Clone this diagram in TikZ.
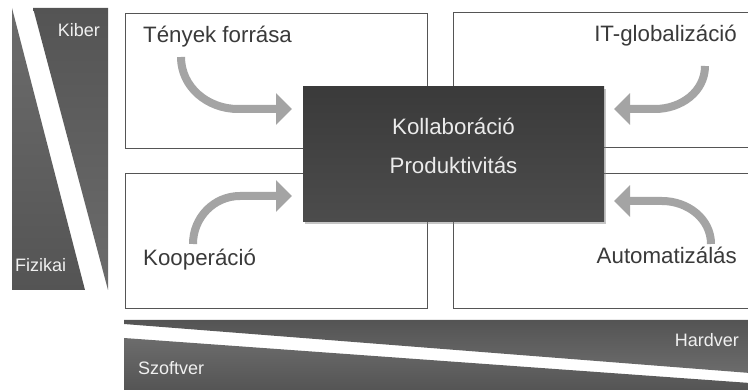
\documentclass[tikz,border=0pt]{standalone}
\usepackage{fontspec}
\setmainfont{Liberation Sans}
\usetikzlibrary{arrows.meta,shadows}

\definecolor{boxline}{HTML}{555555}
\definecolor{labelgray}{HTML}{3A3A3A}
\definecolor{arrowgray}{HTML}{A4A4A4}
\definecolor{bargray}{HTML}{616161}
\definecolor{bardark}{HTML}{545454}
\definecolor{barlight}{HTML}{6C6C6C}
\definecolor{coretop}{HTML}{3A3A3A}
\definecolor{corebottom}{HTML}{4C4C4C}

\tikzset{
  quadbox/.style={draw=boxline, line width=1.4pt, fill=white, rectangle,
    inner sep=0pt, anchor=north west},
  corebox/.style={rectangle, inner sep=0pt, anchor=north west,
    top color=coretop, bottom color=corebottom,
    drop shadow={opacity=0.45, shadow xshift=2pt, shadow yshift=-3pt}},
  quadlabel/.style={text=labelgray, inner sep=0pt,
    font=\fontsize{22.3}{26}\selectfont},
  corelabel/.style={text=white!92!black, inner sep=0pt, anchor=base,
    font=\fontsize{22.3}{26}\selectfont},
  barlabel/.style={text=white!94!black, inner sep=0pt,
    font=\fontsize{18}{21}\selectfont},
  flowarrow/.style={draw=arrowgray, line width=8pt,
    -{Triangle[length=16pt,width=31pt]}},
}

\begin{document}
\begin{tikzpicture}[x=1pt, y=-1pt]
\useasboundingbox (0,0) rectangle (748,390);

% Kiber / Fizikai bar on the left, split by a white diagonal
\shade[top color=barlight, bottom color=bardark]
  (12,8) -- (85,290) -- (12,290) -- cycle;
\shade[top color=bardark, bottom color=barlight]
  (33,8) -- (108,8) -- (108,290) -- cycle;
\node[barlabel, anchor=base east] (kiber) at (100,37) {Kiber};
\node[barlabel, anchor=base west] (fizikai) at (15,272) {Fizikai};

% Hardver / Szoftver bar at the bottom
\shade[top color=bardark, bottom color=barlight]
  (124,320) -- (750,320) -- (750,373) -- (124,324) -- cycle;
\shade[top color=barlight, bottom color=bardark]
  (124,338) -- (750,383) -- (750,391) -- (124,391) -- cycle;
\node[barlabel, anchor=base east] (hardver) at (739,347) {Hardver};
\node[barlabel, anchor=base west] (szoftver) at (138,374) {Szoftver};

% four quadrants
\node[quadbox, minimum width=302pt, minimum height=135pt] (tl) at (125,13) {};
\node[quadbox, minimum width=300pt, minimum height=135pt] (tr) at (453,12) {};
\node[quadbox, minimum width=302pt, minimum height=135pt] (bl) at (125,173) {};
\node[quadbox, minimum width=300pt, minimum height=135pt] (br) at (453,173) {};

% central box
\node[corebox, minimum width=301pt, minimum height=135pt] (core) at (303,86) {};
\node[corelabel] (kollab) at (453.5,135) {Kollaboráció};
\node[corelabel] (produkt) at (453.5,174) {Produktivitás};

% quadrant labels
\node[quadlabel, anchor=base west] (tenyek) at (143,43) {Tények forrása};
\node[quadlabel, anchor=base east] (itglob) at (737,42) {IT-globalizáció};
\node[quadlabel, anchor=base west] (koop) at (143,266) {Kooperáció};
\node[quadlabel, anchor=base east] (autom) at (737,264) {Automatizálás};

% arrow ends
\coordinate (a1s) at (181,57);
\coordinate (a1m) at (238,109);
\coordinate (a1e) at (292,109);
\coordinate (a2s) at (705,66);
\coordinate (a2m) at (655,109);
\coordinate (a2e) at (614,109);
\coordinate (a3s) at (193,244);
\coordinate (a3m) at (240,196);
\coordinate (a3e) at (292,196);
\coordinate (a4s) at (711,244);
\coordinate (a4m) at (662,201);
\coordinate (a4e) at (614,201);

% curved arrows toward the central box
\draw[flowarrow] (a1s) to[out=-90, in=180] (a1m) -- (a1e);
\draw[flowarrow] (a2s) to[out=-90, in=0] (a2m) -- (a2e);
\draw[flowarrow] (a3s) to[out=90, in=180] (a3m) -- (a3e);
\draw[flowarrow] (a4s) to[out=90, in=0] (a4m) -- (a4e);
\end{tikzpicture}
\end{document}
